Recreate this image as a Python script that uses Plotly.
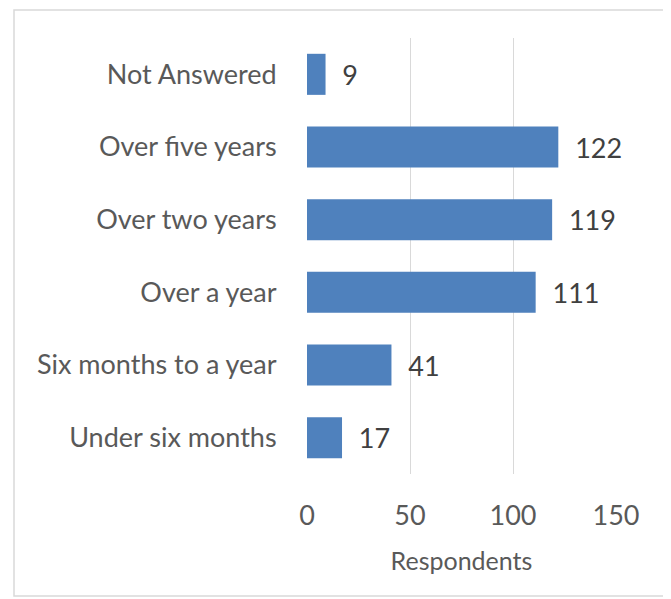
import plotly.graph_objects as go

categories = ["Under six months", "Six months to a year", "Over a year",
              "Over two years", "Over five years", "Not Answered"]
values = [17, 41, 111, 119, 122, 9]
x_ticks = [0, 50, 100, 150]

# page body has an 8px margin, so the figure is sized/positioned to compensate
OFF = 8
W, H = 671 - OFF, 599 - OFF
L, R, T, B = 307 - OFF, 616 - OFF, 38 - OFF, 474 - OFF
TXT = "#595959"
FONT = "Lato"
NB = "\u00a0"

fig = go.Figure(go.Bar(
    y=categories, x=values, orientation="h",
    marker=dict(color="#4F81BD", line=dict(width=0)),
    width=0.565,
    text=[NB * 2 + str(v) for v in values], textposition="outside",
    textfont=dict(family=FONT, size=27, color="#404040"),
    cliponaxis=False,
))

fig.update_layout(
    width=W, height=H,
    margin=dict(l=L, r=W - R, t=T, b=H - B, pad=0, autoexpand=False),
    paper_bgcolor="white", plot_bgcolor="white",
    font=dict(family=FONT, color=TXT),
    showlegend=False,
    bargap=0.435,
    xaxis=dict(range=[0, 150], tickvals=x_ticks, showgrid=True,
               gridcolor="#D9D9D9", gridwidth=1.3, zeroline=False,
               showline=False, tickfont=dict(size=27, color=TXT),
               ticks="outside", ticklen=18, tickcolor="rgba(0,0,0,0)",
               title=dict(text="Respondents", font=dict(size=25, color=TXT), standoff=22),
               fixedrange=True),
    yaxis=dict(categoryorder="array", categoryarray=categories,
               showgrid=False, zeroline=False, showline=False,
               tickfont=dict(size=27, color=TXT),
               ticks="outside", ticklen=24, tickcolor="rgba(0,0,0,0)",
               fixedrange=True),
)

# outer chart border
fig.add_shape(type="rect", xref="paper", yref="paper",
              x0=(14 - OFF - L) / (R - L), x1=(667 - OFF - L) / (R - L),
              y0=(B - (596 - OFF)) / (B - T), y1=(B - (10 - OFF)) / (B - T),
              line=dict(color="#D9D9D9", width=1.5), fillcolor="rgba(0,0,0,0)",
              layer="below")

fig.write_html("out.html")
